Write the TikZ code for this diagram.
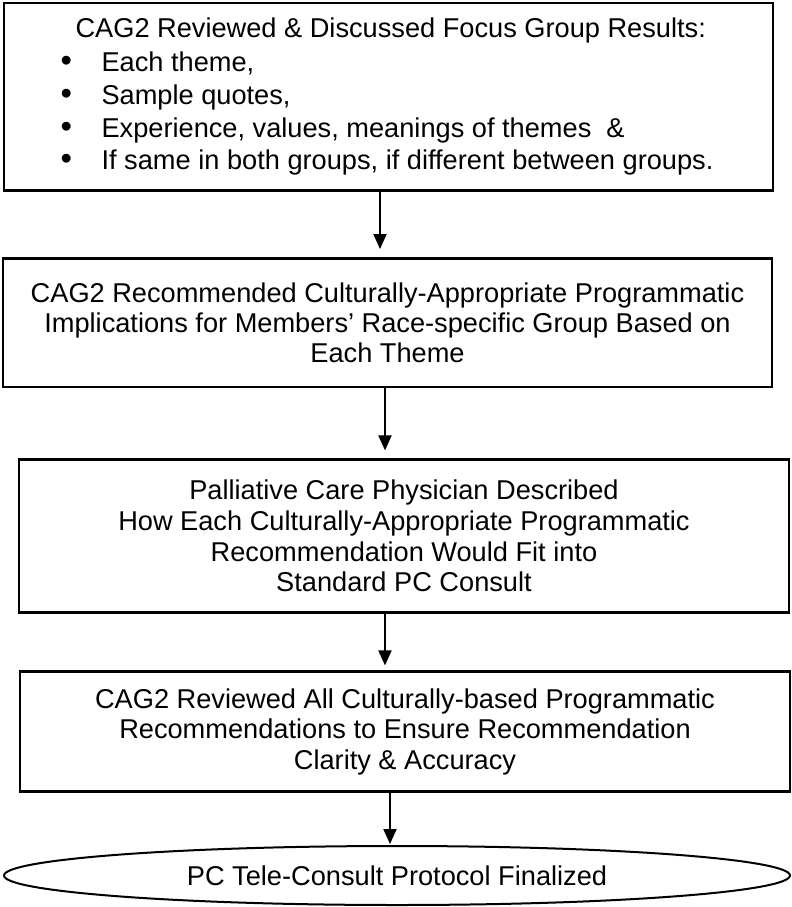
\documentclass[tikz,border=0pt]{standalone}
\usepackage{fontspec}
\setmainfont{Liberation Sans}
\usetikzlibrary{calc}
\usetikzlibrary{shapes}
\usetikzlibrary{arrows.meta}
\newcommand{\bul}{\makebox[19pt][l]{\hspace{-1.5pt}\scalebox{1.2}{\textbullet}}}

\begin{document}
\begin{tikzpicture}[x=0.5pt,y=-0.5pt,>={Triangle[length=7.5pt,width=6.5pt]}]
    \tikzstyle{b}=[shape=rectangle,draw,line width=1.3pt,inner sep=0pt,align=center,font=\fontsize{13.6}{15.2}\selectfont]
    \tikzstyle{e}=[shape=ellipse,draw,line width=1pt,inner sep=0pt,font=\fontsize{13.6}{15.2}\selectfont]
    \tikzstyle{a}=[->,line width=1pt]

    \useasboundingbox (0,0) rectangle (792,907);

    % focus group review
    \coordinate (review_c) at (388.5,96.85);
    \node[b,minimum width=384.5pt,minimum height=93.85pt,align=left,
          font=\fontsize{13.6}{16.35}\selectfont] (review) at (review_c) {%
        \hspace*{6pt}CAG2 Reviewed \& Discussed Focus Group Results:\\[0.65pt]
        \bul Each theme,\\
        \bul Sample quotes,\\
        \bul Experience, values, meanings of themes\ \ \&\\
        \bul If same in both groups, if different between groups.};

    % programmatic implications
    \coordinate (recommend_c) at (387.5,322.85);
    \node[b,minimum width=384.5pt,minimum height=64.15pt] (recommend) at (recommend_c)
        {CAG2 Recommended Culturally-Appropriate Programmatic\\
         Implications for Members’ Race-specific Group Based on\\
         Each Theme};

    \draw[a,shorten >=4.2pt] ($(review.south)+(-8.5,0)$) -- ($(recommend.north)+(-7.5,0)$);

    % physician description
    \coordinate (physician_c) at (404,536);
    \node[b,minimum width=385pt,minimum height=76.7pt,font=\fontsize{13.6}{15.4}\selectfont] (physician) at (physician_c)
        {Palliative Care Physician Described\\
         How Each Culturally-Appropriate Programmatic\\
         Recommendation Would Fit into\\
         Standard PC Consult};

    \draw[a,shorten >=3.8pt] ($(recommend.south)+(-2.5,0)$) -- ($(physician.north)+(-19,0)$);

    % final review
    \coordinate (clarity_c) at (405,731.7);
    \node[b,minimum width=385pt,minimum height=60pt] (clarity) at (clarity_c)
        {CAG2 Reviewed All Culturally-based Programmatic\\
         Recommendations to Ensure Recommendation\\
         Clarity \& Accuracy};

    \draw[a,shorten >=2.5pt] ($(physician.south)+(-19,0)$) -- ($(clarity.north)+(-20,0)$);

    % protocol
    \coordinate (protocol_c) at (397,875.5);
    \node[e,minimum width=393pt,minimum height=29.5pt] (protocol) at (protocol_c)
        {PC Tele-Consult Protocol Finalized};

    \draw[a,shorten >=0.5pt] ($(clarity.south)+(-15,0)$) -- ($(protocol.north)+(-7,0)$);

\end{tikzpicture}
\end{document}
